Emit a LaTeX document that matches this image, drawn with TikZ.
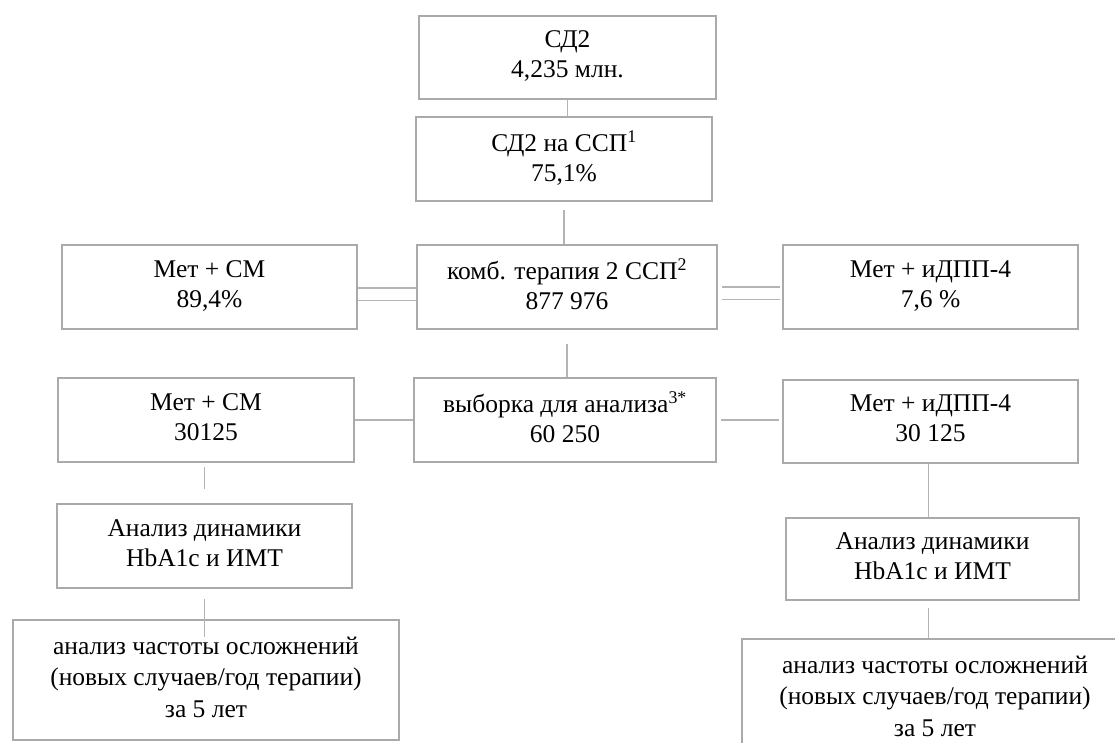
\documentclass[tikz,border=0pt]{standalone}
\usepackage{fontspec}
\setmainfont{Liberation Serif}
\definecolor{ramka}{RGB}{170,170,170}
\definecolor{liniya}{RGB}{180,180,180}
\tikzset{
    blok/.style={draw=ramka, line width=2pt, fill=white, inner sep=0pt,
        minimum width=#1, minimum height=84pt, align=center,
        font=\fontsize{25.5}{30}\selectfont,
        execute at begin node=\rule{0pt}{25pt},
        execute at end node=\rule[-6pt]{0pt}{6pt}},
    blok/.default=296pt,
    svyaz/.style={draw=liniya, line width=1.2pt},
    dvoinaya/.style={draw=liniya, line width=1.2pt, double=white, double distance=11pt}
}
\begin{document}
\begin{tikzpicture}[x=1pt, y=-1pt]
    \useasboundingbox (0,0) rectangle (1115,742);
    \clip (0,0) rectangle (1115,742);
    % verkh
    \node[blok=297pt, minimum height=83pt] (vse) at (567.5,57.5) {СД2\\4,235 млн.};
    \node[blok] (ssp) at (564,159) {СД2 на ССП\textsuperscript{1}\\75,1\%};
    % tretii ryad
    \node[blok=295pt] (metsmA) at (209.5,287) {Мет + СМ\\89,4\%};
    \node[blok=300pt] (komb) at (567,287) {комб. терапия 2 ССП\textsuperscript{2}\\877 976};
    \node[blok=295pt] (metdppA) at (930.5,287) {Мет + иДПП-4\\7,6 \%};
    % vyborka
    \node[blok] (metsmB) at (206,420) {Мет + СМ\\30125};
    \node[blok=302pt] (vyborka) at (565,420) {выборка для анализа\textsuperscript{3*}\\60 250};
    \node[blok=295pt, minimum height=83pt] (metdppB) at (930.5,421.5) {Мет + иДПП-4\\30 125};
    % analiz
    \node[blok=295pt] (dinA) at (204.5,546) {Анализ динамики\\HbA1c и ИМТ};
    \node[blok=293pt, minimum height=82pt] (dinB) at (932.5,559) {Анализ динамики\\HbA1c и ИМТ};
    \node[blok=386pt, minimum height=120pt, font=\fontsize{25.5}{31.5}\selectfont] (oslA) at (206,680)
        {анализ частоты осложнений\\(новых случаев/год терапии)\\за 5 лет};
    \node[blok=386pt, minimum height=120pt, font=\fontsize{25.5}{31.5}\selectfont] (oslB) at (935,699)
        {анализ частоты осложнений\\(новых случаев/год терапии)\\за 5 лет};
    % svyazi
    \draw[svyaz] (vse.south) -- (vse.south |- ssp.north);
    \draw[svyaz] ([yshift=-8pt]ssp.south) -- (ssp.south |- komb.north);
    \draw[dvoinaya] ([yshift=-7pt]metsmA.east) -- ([yshift=-7pt]komb.west);
    \draw[dvoinaya] ([xshift=4pt,yshift=-6pt]komb.east) -- ([xshift=-2pt,yshift=-6pt]metdppA.west);
    \draw[svyaz] ([yshift=-14pt]komb.south) -- (komb.south |- vyborka.north);
    \draw[svyaz] (metsmB.east) -- (metsmB.east -| vyborka.west);
    \draw[svyaz] ([xshift=4pt]vyborka.east) -- ([xshift=-3pt]vyborka.east -| metdppB.west);
    \draw[svyaz] ([yshift=-4pt]metsmB.south -| dinA.south) -- ([yshift=14pt]dinA.north);
    \draw[svyaz] ([yshift=-10pt]dinA.south) -- ([yshift=-18pt]dinA.south |- oslA.north);
    \draw[svyaz] ([xshift=-2pt]metdppB.south) -- ([xshift=-2pt]metdppB.south |- dinB.north);
    \draw[svyaz] ([xshift=-4pt,yshift=-7pt]dinB.south) -- ([xshift=-4pt]dinB.south |- oslB.north);
\end{tikzpicture}
\end{document}
